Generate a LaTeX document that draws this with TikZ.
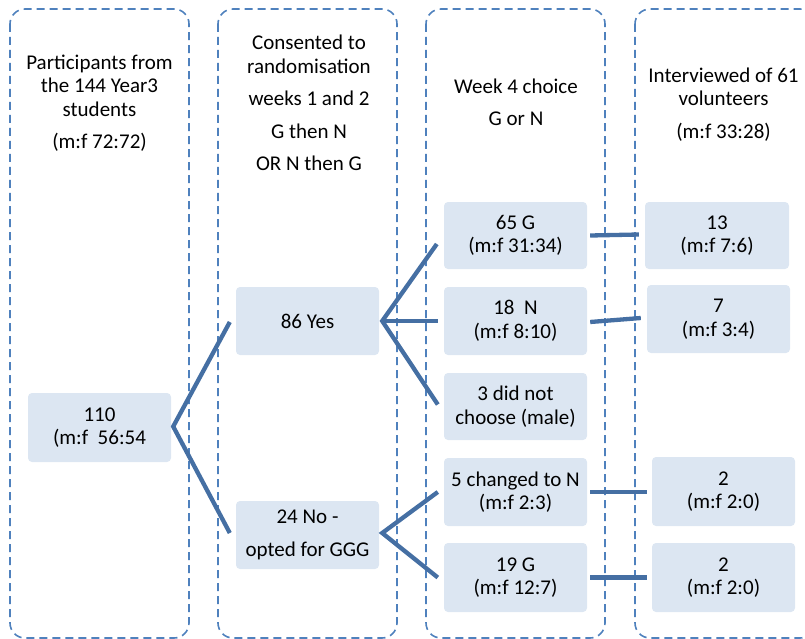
\documentclass[tikz,border=0pt]{standalone}
\usepackage{fontspec}
\setmainfont{Carlito}
\usetikzlibrary{calc}
\definecolor{colline}{HTML}{4F81BD}
\definecolor{boxfill}{HTML}{DCE6F2}
\definecolor{conn}{HTML}{456FA3}
\begin{document}
\begin{tikzpicture}[x=1pt,y=-1pt,
  colbox/.style={draw=colline, line width=1.6pt, dash pattern=on 8pt off 5pt, rounded corners=15pt},
  hdr/.style={align=center, font=\fontsize{21}{23.5}\selectfont, inner sep=0pt},
  databox/.style={fill=boxfill, rounded corners=4pt, align=center, inner sep=0pt,
    minimum width=143pt, minimum height=68pt, font=\fontsize{21}{23.5}\selectfont},
  link/.style={draw=conn, line width=4.3pt, line join=miter, line cap=butt}]
\useasboundingbox (0,0) rectangle (805,639);
\clip (0,0) rectangle (805,639);
% columns
\draw[colbox] (10,9) rectangle (189,638);
\draw[colbox] (218,9) rectangle (397,638);
\draw[colbox] (426,9) rectangle (605,638);
\draw[colbox] (635,9) rectangle (815,638);
% headers
\node[hdr] (h1) at (99.5,103) {Participants from\\the 144 Year3\\students\\[9pt](m:f 72:72)};
\node[hdr] (h2) at (309,103) {Consented to\\randomisation\\[9pt]weeks 1 and 2\\[9pt]G then N\\[9pt]OR N then G};
\node[hdr] (h3) at (516,102.5) {Week 4 choice\\[9pt]G or N};
\node[hdr] (h4) at (723.5,104.5) {Interviewed of 61\\volunteers\\[9pt](m:f 33:28)};
% boxes
\node[databox, minimum height=69pt] (n110) at (99.5,427.5) {110\\(m:f\ \ 56:54};
\node[databox] (yes) at (307.5,321) {86 Yes};
\node[databox] (no) at (307.5,535) {24 No -\\[9pt]opted for GGG};
\node[databox, minimum height=67pt] (g65) at (515.5,235.5) {65 G\\(m:f 31:34)};
\node[databox] (n18) at (515.5,321) {18\ \ N\\(m:f 8:10)};
\node[databox, minimum height=67pt] (dnc) at (515.5,406.5) {3 did not\\choose (male)};
\node[databox] (ch5) at (515.5,492) {5 changed to N\\(m:f 2:3)};
\node[databox, minimum height=69pt] (g19) at (515.5,577.5) {19 G\\(m:f 12:7)};
\node[databox, minimum width=144pt, minimum height=67pt] (i13) at (717,235.5) {13\\(m:f 7:6)};
\node[databox] (i7) at (718.5,319) {7\\(m:f 3:4)};
\node[databox, minimum height=69pt] (i2a) at (723.5,491.5) {2\\(m:f 2:0)};
\node[databox, minimum height=69pt] (i2b) at (723.5,577.5) {2\\(m:f 2:0)};
% connectors
\draw[link] ($(yes.west)+(-6,1)$) -- ($(n110.east)+(2,-1)$) -- ($(no.west)+(-6,-2)$);
\draw[link] ($(g65.west)+(-7,8.5)$) -- ($(yes.east)+(3,0)$) -- ($(dnc.west)+(-6,-2)$);
\draw[link] ($(yes.east)+(3,0)$) -- ($(n18.west)+(-6,0)$);
\draw[link] ($(ch5.west)+(-6,0)$) -- ($(no.east)+(3,-2)$) -- ($(g19.west)+(-6,0)$);
\draw[link] ($(g65.east)+(3,0)$) -- ($(i13.west)+(-6,-1)$);
\draw[link] ($(n18.east)+(3,1)$) -- ($(i7.west)+(-6,-1)$);
\draw[link] ($(ch5.east)+(3,0)$) -- ($(i2a.west)+(-5,0.5)$);
\draw[link] ($(g19.east)+(3,0)$) -- ($(i2b.west)+(-5,0)$);
\end{tikzpicture}
\end{document}
